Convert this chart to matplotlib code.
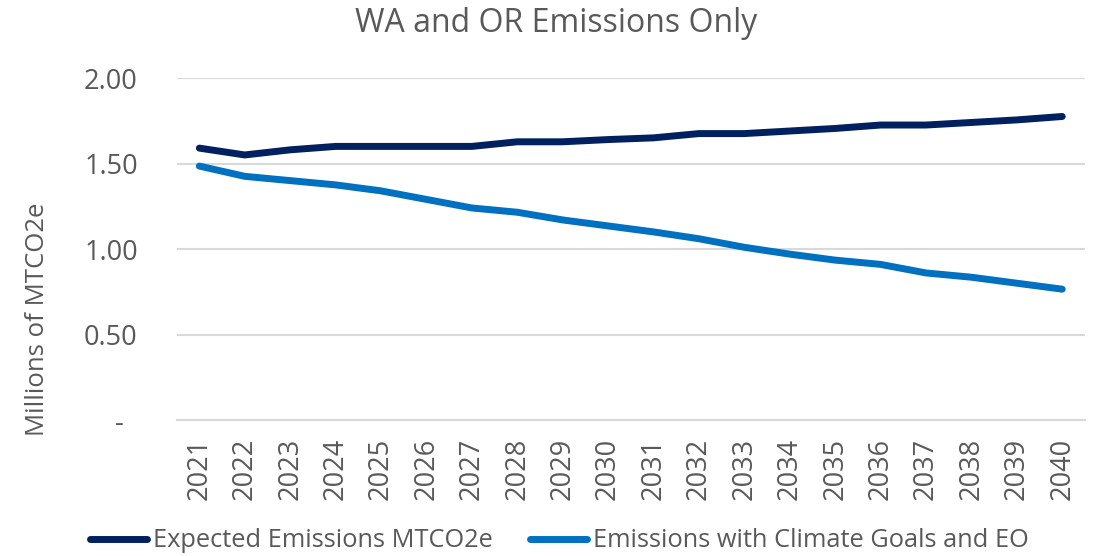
import matplotlib
matplotlib.use("Agg")
import matplotlib.pyplot as plt

# values (millions of MTCO2e)
years = [str(y) for y in range(2021, 2041)]
expected = [1.59, 1.55, 1.58, 1.60, 1.60, 1.60, 1.60, 1.627, 1.627, 1.64,
            1.65, 1.675, 1.675, 1.69, 1.705, 1.725, 1.725, 1.74, 1.755, 1.775]
with_goals = [1.485, 1.425, 1.40, 1.375, 1.34, 1.29, 1.24, 1.215, 1.17, 1.135,
              1.10, 1.06, 1.01, 0.97, 0.935, 0.91, 0.86, 0.835, 0.80, 0.765]
y_ticks = [0, 0.5, 1.0, 1.5, 2.0]
y_labels = ["-  ", "0.50", "1.00", "1.50", "2.00"]

plt.rcParams["font.family"] = ["Open Sans", "DejaVu Sans"]
text_color = "#595959"
grid_color = "#d9d9d9"

fig = plt.figure(figsize=(10.97, 5.56), dpi=100)
ax = fig.add_axes([0.161, 0.2446, 0.828, 0.6151])

x = range(len(years))
ax.plot(x, expected, color="#002060", lw=5, solid_capstyle="round",
        label="Expected Emissions MTCO2e", zorder=3)
ax.plot(x, with_goals, color="#0070c0", lw=5, solid_capstyle="round",
        label="Emissions with Climate Goals and EO", zorder=3)

ax.set_xlim(-0.5, len(years) - 0.5)
ax.set_ylim(0, 2.0)
ax.set_xticks(list(x))
ax.set_xticklabels(years, rotation=90, fontsize=19.5, color=text_color)
ax.set_yticks(y_ticks)
ax.set_yticklabels(y_labels, fontsize=19.5, color=text_color)
ax.tick_params(length=0)
ax.tick_params(axis="y", pad=28)
ax.tick_params(axis="x", pad=13)
ax.grid(axis="y", color=grid_color, lw=1.5)
ax.set_axisbelow(True)
for s in ["top", "right", "left"]:
    ax.spines[s].set_visible(False)
ax.spines["bottom"].set_color(grid_color)
ax.spines["bottom"].set_linewidth(1.5)

fig.text(0.507, 0.9424, "WA and OR Emissions Only", ha="center", va="baseline",
         fontsize=23, color=text_color)
fig.text(0.0346, 0.426, "Millions of MTCO2e", rotation=90, ha="center",
         va="center", fontsize=18.5, color=text_color)

fig.legend(loc="center", bbox_to_anchor=(0.5096, 0.027), ncol=2, frameon=False,
           fontsize=18.3, handlelength=2.25, columnspacing=1.45, handletextpad=0.24,
           labelcolor=text_color)

fig.savefig("out.png", dpi=100)
